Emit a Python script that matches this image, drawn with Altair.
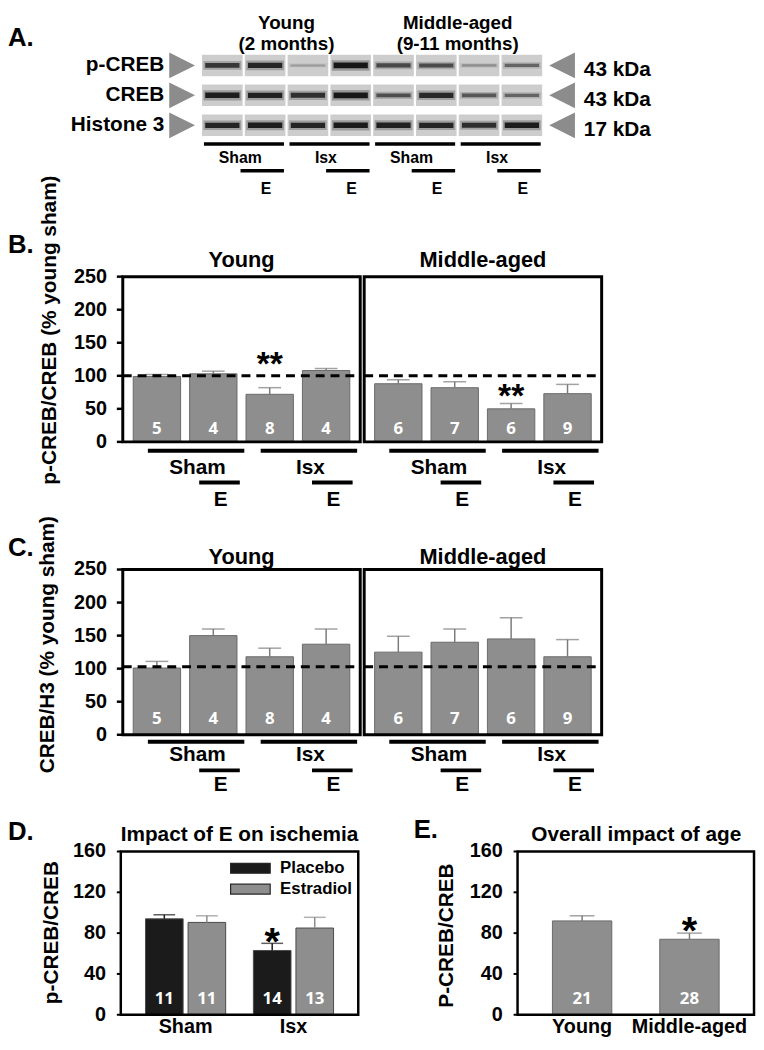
import altair as alt
import pandas as pd

# ------------------------------------------------------------------ data
# Panel A: western blot lanes, band intensities (0 = none, 1 = darkest)
lanes = [1, 2, 3, 4, 5, 6, 7, 8]
lane_age = ["Young", "Young", "Young", "Young",
            "Middle-aged", "Middle-aged", "Middle-aged", "Middle-aged"]
lane_surgery = ["Sham", "Sham", "Isx", "Isx", "Sham", "Sham", "Isx", "Isx"]
lane_treatment = ["Placebo", "E", "Placebo", "E", "Placebo", "E", "Placebo", "E"]
blot_proteins = ["p-CREB", "CREB", "Histone 3"]
blot_weights = ["43 kDa", "43 kDa", "17 kDa"]
band_pcreb = [0.72, 0.85, 0.12, 0.95, 0.6, 0.58, 0.2, 0.42]
band_creb = [0.9, 0.88, 0.78, 0.95, 0.55, 0.82, 0.5, 0.42]
band_h3 = [0.85, 0.9, 0.85, 0.92, 0.88, 0.85, 0.78, 0.9]
age_titles = ["Young", "Middle-aged"]
age_months = ["(2 months)", "(9-11 months)"]

# Panels B and C (bars: Sham, Sham+E, Isx, Isx+E)
bar_groups = ["Sham", "Sham+E", "Isx", "Isx+E"]
bar_surgery = ["Sham", "Sham", "Isx", "Isx"]
bar_estradiol = [False, True, False, True]
young_n = [5, 4, 8, 4]
middle_n = [6, 7, 6, 9]
bc_ticks = [0, 50, 100, 150, 200, 250]

b_young_mean = [99, 103, 72, 108]
b_young_sem = [3, 4, 10, 3]
b_middle_mean = [88, 82, 50, 73]
b_middle_sem = [6, 9, 8, 14]
b_young_sig = ["", "", "**", ""]
b_middle_sig = ["", "", "**", ""]
b_young_sig_y = [None, None, 129, None]
b_middle_sig_y = [None, None, 81, None]
b_reference = 100

c_young_mean = [101, 150, 118, 137]
c_young_sem = [10, 10, 13, 23]
c_middle_mean = [125, 140, 145, 118]
c_middle_sem = [24, 20, 32, 26]
c_sig = ["", "", "", ""]
c_sig_y = [None, None, None, None]
c_reference = 103

# Panel D
d_surgery = ["Sham", "Isx"]
d_treatments = ["Placebo", "Estradiol"]
d_placebo_mean = [94, 63]
d_placebo_sem = [4, 7]
d_placebo_n = [11, 14]
d_placebo_sig = ["", "*"]
d_placebo_sig_y = [None, 80.5]
d_estradiol_mean = [90.5, 85]
d_estradiol_sem = [6.5, 10.5]
d_estradiol_n = [11, 13]
de_ticks = [0, 40, 80, 120, 160]

# Panel E
e_age = ["Young", "Middle-aged"]
e_mean = [92, 74]
e_sem = [5, 6]
e_n = [21, 28]
e_sig = ["", "*"]
e_sig_y = [None, 92]

# ------------------------------------------------------------------ style / layout
W, H = 756, 1034
FONT = "Liberation Sans, Arial, sans-serif"
NARROW = "Liberation Sans Narrow, Arial Narrow, Liberation Sans, sans-serif"
NFONT = "Open Sans, Noto Sans, sans-serif"
GRAY = "#8e8e8e"
GRAY_EDGE = "#6a6a6a"
ERR_GRAY = "#7b7b7b"
TRI_RIGHT = "M-1,-1L1,0L-1,1Z"
TRI_LEFT = "M1,-1L-1,0L1,1Z"
SWATCH = "M-1,-0.25L1,-0.25L1,0.25L-1,0.25Z"
XDOM = [-0.605, 3.605]
STAR_B = 34
STAR_DE = 40


def fixed_text(txt, x, y, size=21, align="center", baseline="middle", angle=None,
               font=FONT, color="black"):
    props = dict(align=align, baseline=baseline, fontSize=size, font=font,
                 fontWeight="bold", color=color)
    if angle is not None:
        props["angle"] = angle
    return alt.Chart(pd.DataFrame({"label": [txt]})).mark_text(**props).encode(
        x=alt.value(x), y=alt.value(y), text="label:N")


def y_ticks(values, scale, x_axis, tick_len, pad, font, size, width):
    """Left axis ticks and labels drawn through the panel's y scale."""
    tdf = alt.Chart(pd.DataFrame({"v": values}))
    marks = tdf.mark_rule(color="black", strokeWidth=width).encode(
        x=alt.value(x_axis - tick_len), x2=alt.value(x_axis),
        y=alt.Y("v:Q", scale=scale, axis=None))
    labels = tdf.mark_text(align="right", baseline="middle", font=font, fontSize=size,
                           fontWeight="bold", color="black").encode(
        x=alt.value(x_axis - tick_len - pad), y=alt.Y("v:Q", scale=scale, axis=None), text="v:N")
    return [marks, labels]


# ------------------------------------------------------------------ panel A
xa = alt.Scale(domain=[0.5, 8.5], range=[195, 541], nice=False, zero=False)
ya = alt.Scale(domain=[0, 4], range=[22.25, 143.25], nice=False, zero=False)
XA = lambda f: alt.X(f, scale=xa, axis=None)
YA = lambda f: alt.Y(f, scale=ya, axis=None)

blot_records = []
for r, (prot, vals) in enumerate(zip(blot_proteins, [band_pcreb, band_creb, band_h3]), start=1):
    for lane, v in zip(lanes, vals):
        blot_records.append({"lane": lane, "row": r, "protein": prot, "intensity": v})
blot = pd.DataFrame(blot_records)
blot_base = alt.Chart(blot).transform_calculate(
    lx1="datum.lane - 0.475", lx2="datum.lane + 0.475",
    ry1="datum.row - 0.36", ry2="datum.row + 0.36",
    hx1="datum.lane - 0.44", hx2="datum.lane + 0.44",
    bx1="datum.lane - 0.40", bx2="datum.lane + 0.40")
lane_bg = blot_base.mark_rect(fill="#cdcdcd").encode(
    x=XA("lx1:Q"), x2="lx2:Q", y=YA("ry1:Q"), y2="ry2:Q")
halo = blot_base.mark_rule(color="#1a1a1a", strokeCap="butt").encode(
    x=XA("hx1:Q"), x2="hx2:Q", y=YA("row:Q"),
    strokeWidth=alt.StrokeWidth("intensity:Q", scale=alt.Scale(domain=[0, 1], range=[3, 11]), legend=None),
    strokeOpacity=alt.StrokeOpacity("intensity:Q", scale=alt.Scale(domain=[0, 1], range=[0.05, 0.3]), legend=None))
core = blot_base.mark_rule(color="#111111", strokeCap="butt").encode(
    x=XA("bx1:Q"), x2="bx2:Q", y=YA("row:Q"),
    strokeWidth=alt.StrokeWidth("intensity:Q", scale=alt.Scale(domain=[0, 1], range=[1.5, 6]), legend=None),
    strokeOpacity=alt.StrokeOpacity("intensity:Q", scale=alt.Scale(domain=[0, 1], range=[0.1, 1]), legend=None))

rows_df = pd.DataFrame({"row": [1, 2, 3], "protein": blot_proteins, "kda": blot_weights})
prot_text = alt.Chart(rows_df).mark_text(align="right", baseline="middle", fontSize=21, font=FONT,
                                         fontWeight="bold").encode(
    x=alt.value(158), y=YA("row:Q"), text="protein:N")
tri_l = alt.Chart(rows_df).mark_point(shape=TRI_RIGHT, size=676, filled=True, color="#8c8c8c",
                                      opacity=1).encode(x=alt.value(176), y=YA("row:Q"))
tri_r = alt.Chart(rows_df).mark_point(shape=TRI_LEFT, size=676, filled=True, color="#8c8c8c",
                                      opacity=1).encode(x=alt.value(560), y=YA("row:Q"))
kda_text = alt.Chart(rows_df).mark_text(align="left", baseline="middle", fontSize=21, font=FONT,
                                        fontWeight="bold", dy=5).encode(
    x=alt.value(582), y=YA("row:Q"), text="kda:N")

ages_df = pd.DataFrame({
    "age": age_titles, "months": age_months,
    "mid": [sum(l for l, a in zip(lanes, lane_age) if a == t) / lane_age.count(t) for t in age_titles]})
age_t1 = alt.Chart(ages_df).mark_text(baseline="alphabetic", fontSize=19, font=FONT, fontWeight="bold").encode(
    x=XA("mid:Q"), y=alt.value(16), text="age:N")
age_t2 = alt.Chart(ages_df).mark_text(baseline="alphabetic", fontSize=19, font=FONT, fontWeight="bold").encode(
    x=XA("mid:Q"), y=alt.value(37), text="months:N")

a_groups = []
for lane, age, surg in zip(lanes, lane_age, lane_surgery):
    if a_groups and a_groups[-1]["age"] == age and a_groups[-1]["surgery"] == surg:
        a_groups[-1]["last"] = lane
    else:
        a_groups.append({"age": age, "surgery": surg, "first": lane, "last": lane})
a_groups = pd.DataFrame(a_groups)
a_gbase = alt.Chart(a_groups).transform_calculate(
    gx1="datum.first - 0.43", gx2="datum.last + 0.44", gx="datum.first + 0.42")
a_glines = a_gbase.mark_rule(strokeWidth=3.5, color="black").encode(
    x=XA("gx1:Q"), x2="gx2:Q", y=alt.value(132))
a_glabels = a_gbase.mark_text(fontSize=16, font=FONT, fontWeight="bold").encode(
    x=XA("gx:Q"), y=alt.value(146), text="surgery:N")
a_e = pd.DataFrame({"lane": [l for l, t in zip(lanes, lane_treatment) if t == "E"], "label": "E"})
a_ebase = alt.Chart(a_e).transform_calculate(
    ex1="datum.lane - 0.575", ex2="datum.lane + 0.44", ex="datum.lane + 0.02")
a_elines = a_ebase.mark_rule(strokeWidth=3.5, color="black").encode(
    x=XA("ex1:Q"), x2="ex2:Q", y=alt.value(159))
a_elabels = a_ebase.mark_text(fontSize=16, font=FONT, fontWeight="bold").encode(
    x=XA("ex:Q"), y=alt.value(177), text="label:N")

panel_a = alt.layer(lane_bg, halo, core, prot_text, tri_l, tri_r, kda_text, age_t1, age_t2,
                    a_glines, a_glabels, a_elines, a_elabels).resolve_scale(
    strokeWidth="independent", strokeOpacity="independent")


# ------------------------------------------------------------------ panels B and C
def bc_panel(mean, sem, n, sig, sig_y, xr, yr, title, title_gap, n_dy, reference, under, with_axis):
    xs = alt.Scale(domain=XDOM, range=list(xr), nice=False, zero=False)
    ys = alt.Scale(domain=[0, 250], range=list(yr), nice=False)
    X = lambda f: alt.X(f, scale=xs, axis=None)
    Y = lambda f: alt.Y(f, scale=ys, axis=None)
    zero_px = yr[0]
    df = pd.DataFrame({"k": list(range(len(mean))), "group": bar_groups, "mean": mean,
                       "sem": sem, "n": n, "sig": sig, "sig_y": sig_y})
    base = alt.Chart(df).transform_calculate(
        top="datum.mean + datum.sem", x1="datum.k - 0.42", x2="datum.k + 0.42", zero="0")
    bars = base.mark_rect(fill=GRAY, stroke=GRAY_EDGE, strokeWidth=1).encode(
        x=X("x1:Q"), x2="x2:Q", y=Y("mean:Q"), y2="zero:Q")
    err = base.mark_rule(color=ERR_GRAY, strokeWidth=1.5).encode(x=X("k:Q"), y=Y("mean:Q"), y2="top:Q")
    cap = base.mark_tick(orient="horizontal", size=23, thickness=1.5, color=ERR_GRAY).encode(
        x=X("k:Q"), y=Y("top:Q"))
    nlab = base.mark_text(color="white", font=NFONT, fontSize=17, fontWeight="bold", dy=n_dy).encode(
        x=X("k:Q"), y=Y("zero:Q"), text="n:N")
    stars = base.transform_filter("datum.sig != ''").mark_text(
        font=FONT, fontSize=STAR_B, fontWeight="bold", baseline="alphabetic",
        dy=round(0.573 * STAR_B)).encode(
        x=X("k:Q"), y=Y("sig_y:Q"), text="sig:N")
    one = alt.Chart(pd.DataFrame({"ref": [reference], "title": [title]})).transform_calculate(
        xa=str(XDOM[0]), xb=str(XDOM[1]), xm=str((XDOM[0] + XDOM[1]) / 2), lo="0", hi="250")
    ref_line = one.mark_rule(strokeDash=[9, 6], strokeWidth=3, color="black").encode(
        x=X("xa:Q"), x2="xb:Q", y=Y("ref:Q"))
    frame = one.mark_rect(fillOpacity=0, stroke="black", strokeWidth=3).encode(
        x=X("xa:Q"), x2="xb:Q", y=Y("lo:Q"), y2="hi:Q")
    ttl = one.mark_text(fontSize=22, font=FONT, fontWeight="bold", dy=-title_gap).encode(
        x=X("xm:Q"), y=Y("hi:Q"), text="title:N")

    groups = []
    for k, s in enumerate(bar_surgery):
        if groups and groups[-1]["surgery"] == s:
            groups[-1]["last"] = k
        else:
            groups.append({"surgery": s, "first": k, "last": k})
    gbase = alt.Chart(pd.DataFrame(groups)).transform_calculate(
        gx1="datum.first - 0.16", gx2="datum.last + 0.55", gx="datum.first + 0.72")
    glines = gbase.mark_rule(strokeWidth=4, color="black").encode(
        x=X("gx1:Q"), x2="gx2:Q", y=alt.value(zero_px + under[0]))
    glabels = gbase.mark_text(fontSize=21, font=FONT, fontWeight="bold").encode(
        x=X("gx:Q"), y=alt.value(zero_px + under[1]), text="surgery:N")
    ebase = alt.Chart(pd.DataFrame({"k": [k for k, e in enumerate(bar_estradiol) if e], "label": "E"})
                      ).transform_calculate(ex1="datum.k - 0.25", ex2="datum.k + 0.47", ex="datum.k + 0.13")
    elines = ebase.mark_rule(strokeWidth=4, color="black").encode(
        x=X("ex1:Q"), x2="ex2:Q", y=alt.value(zero_px + under[2]))
    elabels = ebase.mark_text(fontSize=21, font=FONT, fontWeight="bold").encode(
        x=X("ex:Q"), y=alt.value(zero_px + under[3]), text="label:N")
    layers = [bars, err, cap, ref_line, nlab, stars, ttl, glines, glabels, elines, elabels, frame]
    if with_axis:
        layers += y_ticks(bc_ticks, ys, xr[0], 6, 10, NARROW, 20, 2.5)
    return alt.layer(*layers)


YOUNG_X = (116, 356)
MIDDLE_X = (360, 600)
B_Y = (433, 266)
C_Y = (729, 562)
B_UNDER = (9, 26, 41, 59)
C_UNDER = (7, 21, 36, 51)

b_young = bc_panel(b_young_mean, b_young_sem, young_n, b_young_sig, b_young_sig_y, YOUNG_X, B_Y,
                   "Young", 17, -13, b_reference, B_UNDER, True)
b_middle = bc_panel(b_middle_mean, b_middle_sem, middle_n, b_middle_sig, b_middle_sig_y, MIDDLE_X, B_Y,
                    "Middle-aged", 17, -13, b_reference, B_UNDER, False)
c_young = bc_panel(c_young_mean, c_young_sem, young_n, c_sig, c_sig_y, YOUNG_X, C_Y,
                   "Young", 13, -16, c_reference, C_UNDER, True)
c_middle = bc_panel(c_middle_mean, c_middle_sem, middle_n, c_sig, c_sig_y, MIDDLE_X, C_Y,
                    "Middle-aged", 13, -16, c_reference, C_UNDER, False)

# ------------------------------------------------------------------ panels D and E
DE_Y = (1012, 847)
D_X = (114, 354)
E_X = (515, 754)
CAT_BASELINE = 1030
dys = alt.Scale(domain=[0, 160], range=list(DE_Y), nice=False)
dcol = alt.Scale(domain=d_treatments, range=["#1b1b1b", GRAY])


def value_frame(xr):
    return alt.Chart(pd.DataFrame({"lo": [0], "hi": [160]})).mark_rect(
        fillOpacity=0, stroke="black", strokeWidth=2.5).encode(
        x=alt.value(xr[0]), x2=alt.value(xr[1]), y=alt.Y("lo:Q", scale=dys, axis=None), y2="hi:Q")


d_df = pd.DataFrame({
    "surgery": d_surgery + d_surgery,
    "treat": [d_treatments[0]] * 2 + [d_treatments[1]] * 2,
    "mean": d_placebo_mean + d_estradiol_mean,
    "sem": d_placebo_sem + d_estradiol_sem,
    "n": d_placebo_n + d_estradiol_n,
    "sig": d_placebo_sig + ["", ""],
    "sig_y": d_placebo_sig_y + [None, None]})
dxs = alt.Scale(type="band", domain=d_surgery, range=list(D_X), paddingInner=0.257, paddingOuter=0.229)
dxo = alt.Scale(type="band", domain=d_treatments, paddingInner=0.116, paddingOuter=0)
d_base = alt.Chart(d_df).transform_calculate(top="datum.mean + datum.sem", zero="0")
DX = alt.X("surgery:N", scale=dxs, axis=None)
DXO = alt.XOffset("treat:N", scale=dxo)
DC = alt.Color("treat:N", scale=dcol, legend=None)
DY = lambda f: alt.Y(f, scale=dys, axis=None)
d_bars = d_base.mark_bar(stroke="#4a4a4a", strokeWidth=1).encode(
    x=DX, xOffset=DXO, y=DY("mean:Q"), color=DC)
d_err = d_base.mark_rule(strokeWidth=1.5).encode(
    x=DX, xOffset=DXO, y=DY("mean:Q"), y2="top:Q", color=DC)
d_cap = d_base.mark_tick(orient="horizontal", size=22, thickness=1.5).encode(
    x=DX, xOffset=DXO, y=DY("top:Q"), color=DC)
d_n = d_base.mark_text(color="white", font=NFONT, fontSize=17, fontWeight="bold", dy=-16).encode(
    x=DX, xOffset=DXO, y=DY("zero:Q"), text="n:N")
d_star = d_base.transform_filter("datum.sig != ''").mark_text(
    font=FONT, fontSize=STAR_DE, fontWeight="bold", baseline="alphabetic",
    dy=round(0.573 * STAR_DE)).encode(
    x=DX, xOffset=DXO, y=DY("sig_y:Q"), text="sig:N")
d_cats = alt.Chart(pd.DataFrame({"surgery": d_surgery})).mark_text(
    baseline="alphabetic", fontSize=20, font=FONT, fontWeight="bold").encode(
    x=DX, y=alt.value(CAT_BASELINE), text="surgery:N")
panel_d = alt.layer(d_bars, d_err, d_cap, d_n, d_star, d_cats, value_frame(D_X),
                    *y_ticks(de_ticks, dys, D_X[0], 4, 11, FONT, 20, 2))

e_df = pd.DataFrame({"age": e_age, "mean": e_mean, "sem": e_sem, "n": e_n, "sig": e_sig, "sig_y": e_sig_y})
exs = alt.Scale(type="band", domain=e_age, range=list(E_X), paddingInner=0.447, paddingOuter=0.325)
e_base = alt.Chart(e_df).transform_calculate(top="datum.mean + datum.sem", zero="0")
EX = alt.X("age:N", scale=exs, axis=None)
e_bars = e_base.mark_bar(fill=GRAY, stroke=GRAY_EDGE, strokeWidth=1).encode(x=EX, y=DY("mean:Q"))
e_err = e_base.mark_rule(strokeWidth=1.5, color=ERR_GRAY).encode(x=EX, y=DY("mean:Q"), y2="top:Q")
e_cap = e_base.mark_tick(orient="horizontal", size=25, thickness=1.5, color=ERR_GRAY).encode(
    x=EX, y=DY("top:Q"))
e_n = e_base.mark_text(color="white", font=NFONT, fontSize=17, fontWeight="bold", dy=-16).encode(
    x=EX, y=DY("zero:Q"), text="n:N")
e_star = e_base.transform_filter("datum.sig != ''").mark_text(
    font=FONT, fontSize=STAR_DE, fontWeight="bold", baseline="alphabetic",
    dy=round(0.573 * STAR_DE)).encode(
    x=EX, y=DY("sig_y:Q"), text="sig:N")
e_cats = e_base.mark_text(baseline="alphabetic", fontSize=20, font=FONT, fontWeight="bold").encode(
    x=EX, y=alt.value(CAT_BASELINE), text="age:N")
panel_e = alt.layer(e_bars, e_err, e_cap, e_n, e_star, e_cats, value_frame(E_X),
                    *y_ticks(de_ticks, dys, E_X[0], 4, 11, FONT, 20, 2))

# legend of panel D
leg_df = pd.DataFrame({"treat": d_treatments})
leg_y = alt.Scale(type="point", domain=d_treatments, range=[864, 885], padding=0)
leg_sw = alt.Chart(leg_df).mark_point(shape=SWATCH, size=1600, filled=True, opacity=1,
                                      stroke="#262626", strokeWidth=1.2).encode(
    x=alt.value(245), y=alt.Y("treat:N", scale=leg_y, axis=None),
    color=alt.Color("treat:N", scale=dcol, legend=None))
leg_tx = alt.Chart(leg_df).mark_text(align="left", baseline="middle", fontSize=17, font=FONT,
                                     fontWeight="bold").encode(
    x=alt.value(275), y=alt.Y("treat:N", scale=leg_y, axis=None), text="treat:N")
legend_d = alt.layer(leg_sw, leg_tx)

# ------------------------------------------------------------------ labels
texts = [
    fixed_text("A.", 0, 25, size=26, align="left"),
    fixed_text("B.", 0, 234, size=26, align="left"),
    fixed_text("C.", 0, 540, size=26, align="left"),
    fixed_text("D.", 0, 827, size=26, align="left"),
    fixed_text("E.", 410, 825, size=26, align="left"),
    fixed_text("p-CREB/CREB (% young sham)", 43, 320, angle=270),
    fixed_text("CREB/H3 (% young sham)", 40, 638, angle=270),
    fixed_text("p-CREB/CREB", 45, 929, angle=270),
    fixed_text("P-CREB/CREB", 444, 932, angle=270),
    fixed_text("Impact of E on ischemia", 234, 830),
    fixed_text("Overall impact of age", 635, 830),
]

chart = alt.layer(
    panel_a, b_young, b_middle, c_young, c_middle, panel_d, panel_e, legend_d, *texts
).resolve_scale(
    x="independent", y="independent", color="independent", xOffset="independent",
    strokeWidth="independent", strokeOpacity="independent"
).properties(
    width=W, height=H, padding=0, autosize=alt.AutoSizeParams(type="none")
).configure_view(stroke=None)

chart.save("out.html", embed_options={"renderer": "svg", "actions": False})
